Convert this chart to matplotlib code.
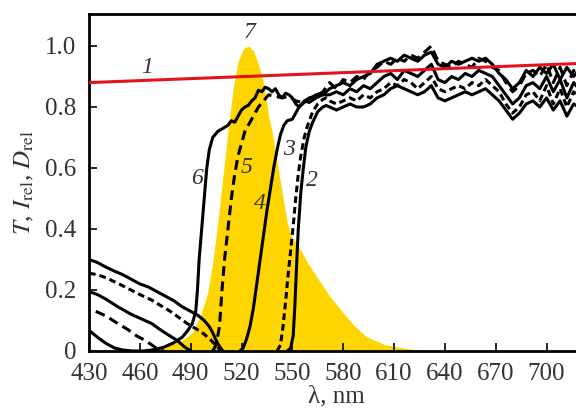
import matplotlib.pyplot as plt

plt.rcParams['font.family'] = ['Liberation Serif', 'DejaVu Serif']
plt.rcParams['mathtext.fontset'] = 'stix'

# curve 1 (red)
wl1 = [430, 720]
t1 = [0.88, 0.943]

# curve 7 (yellow emission band)
wl7 = [464, 475, 485, 491, 496, 500, 503, 506, 509, 512, 515, 518, 521, 524, 527,
       530, 533, 536, 538, 541, 544, 547, 550, 554, 560, 566, 572, 580, 587, 594,
       605, 620, 636]
i7 = [0.0, 0.015, 0.035, 0.06, 0.12, 0.19, 0.29, 0.42, 0.57, 0.72, 0.86, 0.95, 0.99, 1.0, 0.985,
      0.94, 0.88, 0.77, 0.72, 0.62, 0.52, 0.42, 0.37, 0.34, 0.28, 0.23, 0.18, 0.125, 0.08, 0.046,
      0.02, 0.006, 0.0]

# shared wavelength grid of the noisy plateau
wl_top = [572, 576, 580, 584, 588, 592, 596, 600, 604, 608, 612, 616, 620, 624, 628, 632,
          636, 640, 644, 648, 652, 656, 660, 664, 668, 672, 676, 680, 684, 688, 692, 696,
          700, 704, 708, 712, 716, 719]

# curve 6
wl6 = [430, 435, 440, 445, 450, 456, 462, 468, 474, 480, 485, 488, 491, 493, 494, 495,
       496.5, 498, 499.5, 501, 503, 506, 509, 512, 514, 516, 518, 520, 522, 524, 526,
       528, 530, 532, 534, 536, 538, 540, 542, 544, 546, 548, 550, 552, 554, 556, 558,
       561, 564, 567, 570]
t6 = [0.068, 0.045, 0.025, 0.01, 0.003, 0.0, 0.0, 0.004, 0.012, 0.027, 0.045, 0.065, 0.09, 0.13, 0.2, 0.3,
      0.4, 0.5, 0.6, 0.66, 0.7, 0.72, 0.73, 0.74, 0.755, 0.75, 0.77, 0.79, 0.80, 0.805, 0.82,
      0.83, 0.855, 0.85, 0.865, 0.86, 0.85, 0.86, 0.84, 0.83, 0.845, 0.84, 0.83, 0.81, 0.80, 0.81, 0.82,
      0.83, 0.84, 0.845, 0.85]
t6_top = [0.86, 0.87, 0.88, 0.87, 0.89, 0.90, 0.91, 0.94, 0.95, 0.96, 0.95, 0.97, 0.96, 0.95, 0.97, 0.98,
          0.94, 0.93, 0.95, 0.94, 0.95, 0.96, 0.95, 0.96, 0.94, 0.91, 0.89, 0.86, 0.88, 0.92, 0.90, 0.93,
          0.91, 0.94, 0.89, 0.93, 0.90, 0.92]

# curve 5
wl5 = [503, 505, 507, 508.5, 510, 512, 514, 516, 518, 520, 522, 525, 528, 530, 533, 536,
       540, 544, 548, 552, 556, 560, 564, 568]
t5 = [0.0, 0.02, 0.08, 0.2, 0.3, 0.4, 0.5, 0.58, 0.64, 0.68, 0.72, 0.75, 0.78, 0.80, 0.82, 0.84,
      0.835, 0.83, 0.835, 0.82, 0.815, 0.83, 0.835, 0.85]
t5_top = [0.88, 0.86, 0.89, 0.88, 0.90, 0.89, 0.92, 0.93, 0.95, 0.94, 0.96, 0.95, 0.97, 0.96, 0.98, 1.00,
          0.95, 0.94, 0.93, 0.95, 0.94, 0.93, 0.96, 0.95, 0.93, 0.92, 0.88, 0.85, 0.87, 0.91, 0.92, 0.90,
          0.94, 0.88, 0.93, 0.87, 0.92, 0.89]

# curve 4
wl4 = [519, 521, 523, 525, 527, 529, 531, 533, 535, 537, 539, 541, 543, 545, 547, 550,
       552, 554, 557, 560, 564, 568]
t4 = [0.0, 0.01, 0.04, 0.08, 0.14, 0.22, 0.3, 0.38, 0.46, 0.53, 0.6, 0.66, 0.71, 0.74, 0.755, 0.76,
      0.78, 0.80, 0.82, 0.815, 0.83, 0.84]
t4_top = [0.84, 0.85, 0.84, 0.86, 0.85, 0.87, 0.86, 0.88, 0.90, 0.91, 0.89, 0.92, 0.91, 0.90, 0.92, 0.94,
          0.89, 0.88, 0.90, 0.89, 0.91, 0.90, 0.92, 0.91, 0.90, 0.87, 0.84, 0.81, 0.83, 0.87, 0.88, 0.86,
          0.90, 0.85, 0.89, 0.83, 0.88, 0.86]

# curve 3
wl3 = [541, 543, 544.5, 546, 547.5, 549, 550.5, 552, 553.5, 555, 557, 559, 562, 565, 568, 570]
t3 = [0.0, 0.02, 0.08, 0.16, 0.25, 0.33, 0.41, 0.5, 0.58, 0.64, 0.7, 0.74, 0.785, 0.81, 0.825, 0.83]
t3_top = [0.82, 0.81, 0.82, 0.83, 0.82, 0.84, 0.83, 0.85, 0.86, 0.88, 0.87, 0.89, 0.88, 0.86, 0.88, 0.90,
          0.86, 0.85, 0.86, 0.87, 0.86, 0.88, 0.87, 0.89, 0.87, 0.85, 0.81, 0.78, 0.80, 0.84, 0.85, 0.82,
          0.87, 0.81, 0.86, 0.80, 0.85, 0.83]

# curve 2
wl2 = [547, 549, 550.5, 551.5, 552.5, 553.5, 555, 556.5, 558, 560, 562, 565, 568, 570]
t2 = [0.0, 0.01, 0.05, 0.15, 0.28, 0.4, 0.52, 0.6, 0.67, 0.72, 0.75, 0.785, 0.80, 0.805]
t2_top = [0.80, 0.79, 0.80, 0.81, 0.80, 0.80, 0.81, 0.83, 0.84, 0.86, 0.87, 0.86, 0.85, 0.84, 0.85, 0.87,
          0.83, 0.82, 0.83, 0.84, 0.85, 0.84, 0.85, 0.86, 0.84, 0.82, 0.79, 0.76, 0.78, 0.81, 0.82, 0.80,
          0.83, 0.79, 0.82, 0.77, 0.81, 0.80]

# unlabeled optical density curves (lower left)
wlA = [430, 435, 440, 445, 450, 455, 460, 465, 470, 475, 480, 485, 490, 494, 498, 501, 503, 505, 507, 509]
dA = [0.30, 0.29, 0.275, 0.262, 0.25, 0.235, 0.22, 0.21, 0.195, 0.18, 0.165, 0.145, 0.13, 0.118, 0.1,
      0.08, 0.06, 0.035, 0.015, 0.0]
wlB = [430, 435, 440, 447, 453, 460, 467, 472, 478, 483, 488, 494, 498, 502, 505, 508]
dB = [0.255, 0.25, 0.24, 0.222, 0.205, 0.185, 0.167, 0.15, 0.13, 0.11, 0.09, 0.07, 0.055, 0.035, 0.018, 0.0]
wlC = [430, 435, 440, 447, 455, 461, 467, 472, 477, 482, 486, 490]
dC = [0.195, 0.185, 0.17, 0.145, 0.12, 0.105, 0.09, 0.07, 0.052, 0.035, 0.015, 0.0]
wlD = [434, 440, 447, 453, 458, 463, 467, 471, 474]
dD = [0.13, 0.115, 0.09, 0.07, 0.05, 0.035, 0.02, 0.005, 0.0]

fig = plt.figure(figsize=(5.76, 4.11), dpi=100)
ax = fig.add_axes([0.1545, 0.146, 0.8576, 0.82])

ax.fill_between(wl7, i7, color='#FFD500', lw=0, zorder=1)

lw = 2.2
dash_long = (0, (3.2, 1.8))
dash_short = (0, (2.2, 1.3))
ax.plot(wl6 + wl_top, t6 + t6_top, color='k', lw=lw, zorder=3)
ax.plot(wl5 + wl_top, t5 + t5_top, color='k', lw=lw, ls=dash_long, zorder=3)
ax.plot(wl4 + wl_top, t4 + t4_top, color='k', lw=lw, zorder=3)
ax.plot(wl3 + wl_top, t3 + t3_top, color='k', lw=lw, ls=dash_short, zorder=3)
ax.plot(wl2 + wl_top, t2 + t2_top, color='k', lw=lw, zorder=3)

ax.plot(wlA, dA, color='k', lw=lw, zorder=3)
ax.plot(wlB, dB, color='k', lw=lw, ls=dash_short, zorder=3)
ax.plot(wlC, dC, color='k', lw=lw, zorder=3)
ax.plot(wlD, dD, color='k', lw=lw, ls=dash_long, zorder=3)

ax.plot(wl1, t1, color='#E3121B', lw=2.2, zorder=4)

labels = [('1', 464.5, 0.93), ('7', 525, 1.045), ('6', 494, 0.567), ('5', 522.7, 0.60),
          ('4', 531, 0.485), ('3', 548, 0.66), ('2', 561.7, 0.56)]
for txt, x, y in labels:
    ax.text(x, y, txt, fontsize=17, style='italic', color='#333333',
            ha='center', va='center', zorder=5)

ax.set_xlim(430, 721.5)
ax.set_ylim(0, 1.105)
ax.set_xticks([430, 460, 490, 520, 550, 580, 610, 640, 670, 700])
ax.set_yticks([0, 0.2, 0.4, 0.6, 0.8, 1.0])
ax.set_yticklabels(['0', '0.2', '0.4', '0.6', '0.8', '1.0'])
ax.tick_params(direction='in', length=6, width=1.2, labelsize=18, labelcolor='#333333',
               top=False, right=False)
ax.tick_params(axis='x', pad=9)
ax.tick_params(axis='y', pad=9)
for s in ax.spines.values():
    s.set_linewidth(2)

ax.set_xlabel('λ, nm', fontsize=18, color='#333333', labelpad=0)
ax.set_ylabel(r'$T$, $I_{\rm rel}$, $D_{\rm rel}$', fontsize=18, color='#333333', labelpad=7)

fig.savefig('out.png', dpi=100)
